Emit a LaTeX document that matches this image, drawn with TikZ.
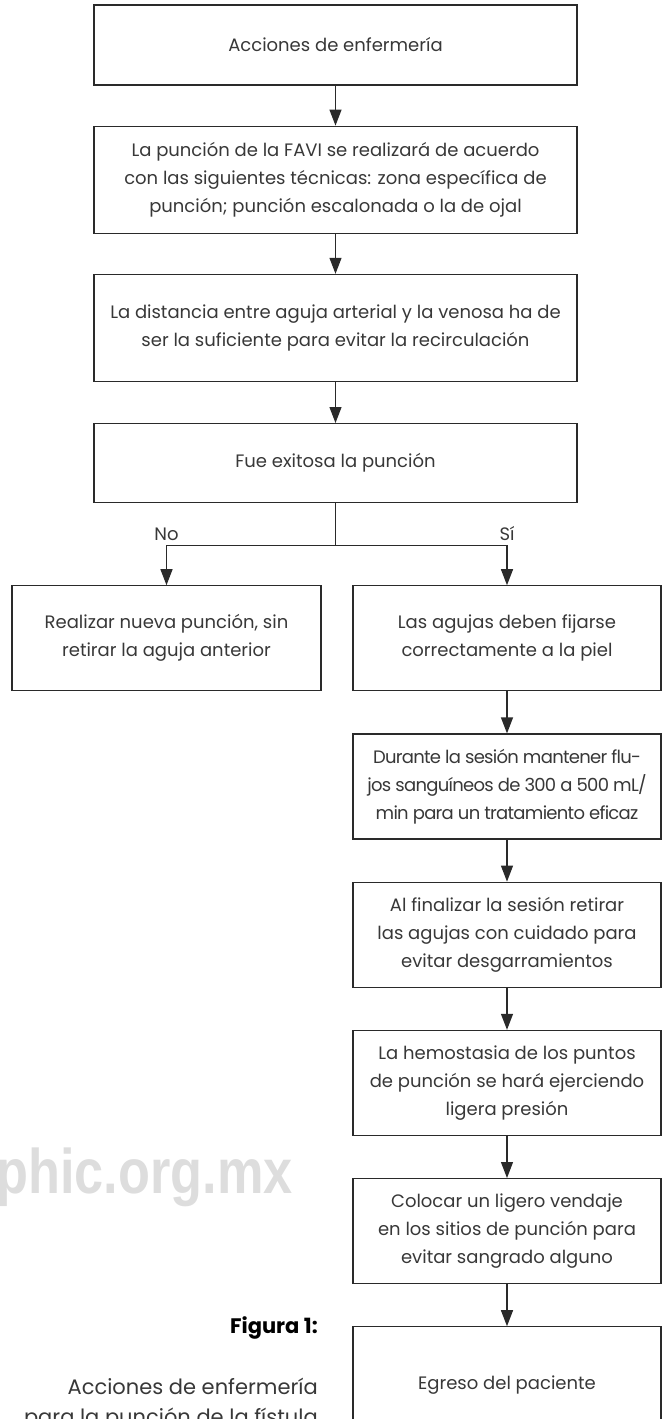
\documentclass[tikz,border=0pt]{standalone}
\usepackage{fontspec}
\setmainfont{Poppins}
\newfontfamily\markfont{Liberation Sans}
\usetikzlibrary{arrows.meta,positioning}
\definecolor{cLine}{HTML}{2A2A2A}
\definecolor{cInk}{HTML}{383838}
\definecolor{cMark}{HTML}{DDDDDD}
\tikzset{
  box/.style={draw=cLine, line width=1.2pt, fill=white, align=center, text=cInk, font=\fontsize{18}{28}\selectfont, minimum width=#1, inner sep=3pt},
  flow/.style={-{Triangle[length=16pt, width=12pt]}, line width=1.2pt, draw=cLine},
  wire/.style={line width=1.2pt, draw=cLine},
  lbl/.style={font=\fontsize{18}{20}\selectfont, text=cInk, inner sep=1pt},
}

\begin{document}
\begin{tikzpicture}[x=1pt, y=-1pt, node distance=42pt]
\useasboundingbox (0,0) rectangle (667,1419);
% watermark
\node[anchor=base east, inner sep=0pt, text=cMark, font=\markfont\bfseries\fontsize{63}{63}\selectfont] (mark) at (293,1193) {\scalebox{0.83}[1]{aphic.org.mx}};
% main column
\node[box=483pt, minimum height=80pt] (acc) at (335.5,45) {Acciones de enfermería};
\node[box=483pt, minimum height=107pt, below=40pt of acc] (tec)
  {La punción de la FAVI se realizará de acuerdo\\con las siguientes técnicas: zona específica de\\punción; punción escalonada o la de ojal};
\node[box=483pt, minimum height=107pt, below=40pt of tec] (dist)
  {La distancia entre aguja arterial y la venosa ha de\\ser la suficiente para evitar la recirculación};
\node[box=483pt, minimum height=79pt, below=41pt of dist] (fue) {Fue exitosa la punción};
\coordinate[below=42pt of fue] (split);
% branches
\node[box=309pt, minimum height=105pt, below=82pt of fue, xshift=-169pt] (nueva)
  {Realizar nueva punción, sin\\retirar la aguja anterior};
\node[box=308pt, minimum height=105pt, below=82pt of fue, xshift=171.5pt] (fijar)
  {Las agujas deben fijarse\\correctamente a la piel};
\node[box=308pt, minimum height=105pt, below=of fijar, font=\fontsize{18}{28}\selectfont\addfontfeature{LetterSpace=-4}] (flujo)
  {Durante la sesión mantener flu-\\jos sanguíneos de 300 a 500 mL/\\min para un tratamiento eficaz};
\node[box=308pt, minimum height=105pt, below=of flujo] (retiro)
  {Al finalizar la sesión retirar\\las agujas con cuidado para\\evitar desgarramientos};
\node[box=308pt, minimum height=105pt, below=of retiro] (hemo)
  {La hemostasia de los puntos\\de punción se hará ejerciendo\\ligera presión};
\node[box=308pt, minimum height=105pt, below=of hemo] (vend)
  {Colocar un ligero vendaje\\en los sitios de punción para\\evitar sangrado alguno};
\node[box=308pt, minimum height=116pt, below=of vend] (egreso) {Egreso del paciente};
\draw[flow] (acc) -- (tec);
\draw[flow] (tec) -- (dist);
\draw[flow] (dist) -- (fue);
\draw[wire] (fue) -- (split);
\draw[flow] (split) -| node[pos=0.5, above=3pt, lbl] {No} (nueva);
\draw[flow] (split) -| node[pos=0.5, above=3pt, lbl] {Sí} (fijar);
\draw[flow] (fijar) -- (flujo);
\draw[flow] (flujo) -- (retiro);
\draw[flow] (retiro) -- (hemo);
\draw[flow] (hemo) -- (vend);
\draw[flow] (vend) -- (egreso);
% caption
\node[anchor=east, inner sep=0pt, font=\bfseries\fontsize{21}{24}\selectfont] (fig) at (318,1328) {Figura 1:};
\node[anchor=north east, inner sep=0pt, align=right, text=cInk, font=\fontsize{21}{30}\selectfont] (cap) at (318,1378)
  {Acciones de enfermería\\para la punción de la fístula};
\end{tikzpicture}
\end{document}
